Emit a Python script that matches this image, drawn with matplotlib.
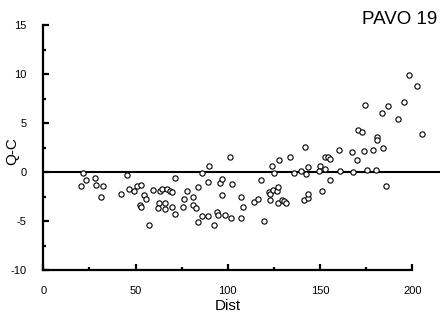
import matplotlib
matplotlib.use("Agg")
import matplotlib.pyplot as plt
from matplotlib.ticker import MultipleLocator

plt.rcParams['font.family'] = ['Liberation Sans', 'DejaVu Sans']
plt.rcParams['axes.unicode_minus'] = False

dist = [20.6, 21.7, 23.0, 27.8, 28.4, 32.6, 31.5, 42.3, 45.1, 46.6,
        49.2, 50.8, 52.7, 54.7, 55.8, 52.6, 53.1, 57.4, 59.2, 63.3,
        64.2, 62.7, 62.4, 66.2, 66.1, 67.3, 68.7, 70.0, 69.9, 71.5,
        71.5, 76.0, 75.9, 78.0, 81.3, 81.2, 82.8, 84.0, 84.0, 86.2,
        89.0, 89.4, 86.2, 90.0, 92.7, 93.9, 94.9, 96.0, 97.1, 97.1,
        98.6, 101.4, 101.9, 102.5, 107.3, 108.0, 107.3, 114.4, 116.5, 118.2,
        119.8, 122.4, 122.9, 123.0, 124.7, 126.4, 127.4, 127.4, 129.1, 130.7,
        131.7, 124.1, 125.2, 127.9, 133.7, 136.0, 139.7, 142.0, 142.5, 143.6,
        141.3, 143.6, 143.6, 150.0, 149.6, 152.7, 154.5, 155.2, 152.8, 151.2,
        155.6, 160.4, 160.9, 167.5, 168.0, 170.2, 174.0, 170.7, 172.9, 174.5,
        175.6, 178.9, 180.5, 181.0, 181.0, 184.3, 183.7, 187.0, 185.9, 192.4,
        195.7, 198.4, 202.7, 205.4]
oc = [-1.40, -0.10, -0.82, -0.61, -1.33, -1.40, -2.55, -2.23, -0.30, -1.73,
      -1.86, -1.42, -1.30, -2.34, -2.76, -3.37, -3.56, -5.40, -1.84, -1.94,
      -1.70, -3.18, -3.67, -3.13, -3.77, -1.73, -1.93, -2.04, -3.57, -0.60,
      -4.28, -2.76, -3.57, -1.94, -2.55, -3.37, -3.66, -1.53, -5.07, -4.49,
      -4.49, -1.01, -0.10, 0.62, -5.41, -4.07, -4.39, -1.09, -0.71, -2.35,
      -4.39, 1.54, -4.68, -1.21, -2.55, -3.57, -4.68, -3.05, -2.76, -0.81,
      -4.99, -2.01, -2.21, -2.86, -1.79, -1.91, -1.52, -3.13, -2.85, -2.88,
      -3.15, 0.62, -0.10, 1.22, 1.53, -0.10, 0.10, 2.55, -0.17, 0.51,
      -2.83, -2.59, -2.21, 0.64, 0.16, 1.59, 1.59, 1.33, 0.31, -1.91,
      -0.81, 2.24, 0.11, 2.04, 0.00, 1.26, 2.17, 4.29, 4.08, 6.87,
      0.23, 2.28, 0.23, 3.57, 3.27, 2.45, 6.02, 6.73, -1.43, 5.41,
      7.14, 9.90, 8.81, 3.88]

x_ticks = [0, 50, 100, 150, 200]
y_ticks = [-10, -5, 0, 5, 10, 15]
title = "PAVO 19"

fig = plt.figure(figsize=(4.47, 3.21), dpi=100)
ax = fig.add_axes([0.0969, 0.158, 0.8875, 0.7632])

ax.axhline(0, color='black', lw=1.5, zorder=1)
ax.plot(dist, oc, linestyle='none', marker='o', ms=3.8, mfc='white',
        mec='black', mew=0.8, zorder=3, clip_on=False)

ax.set_xlim(0, 215)
ax.set_ylim(-10, 15)
ax.set_xticks(x_ticks)
ax.set_yticks(y_ticks)
ax.xaxis.set_minor_locator(MultipleLocator(25))
ax.yaxis.set_minor_locator(MultipleLocator(2.5))

for s in ['top', 'right']:
    ax.spines[s].set_visible(False)
ax.spines['left'].set_bounds(-10, 15)
ax.spines['bottom'].set_bounds(0, 200)
for s in ['left', 'bottom']:
    ax.spines[s].set_linewidth(1.6)

ax.tick_params(which='major', direction='in', length=4, width=1.6,
               labelsize=8)
ax.tick_params(which='minor', direction='in', length=2.5, width=1.6)
ax.tick_params(axis='y', which='major', pad=12)
ax.tick_params(axis='x', which='major', pad=11)

ax.set_xlabel("Dist", fontsize=11)
ax.xaxis.set_label_coords(0.465, -0.118)
fig.text(12 / 447, 1 - 151 / 321, "Q-C", fontsize=11, rotation=90,
         ha='center', va='center')

fig.text(0.978, 0.938, title, fontsize=13.5, ha='right', va='center')

fig.savefig("out.png", dpi=100)
